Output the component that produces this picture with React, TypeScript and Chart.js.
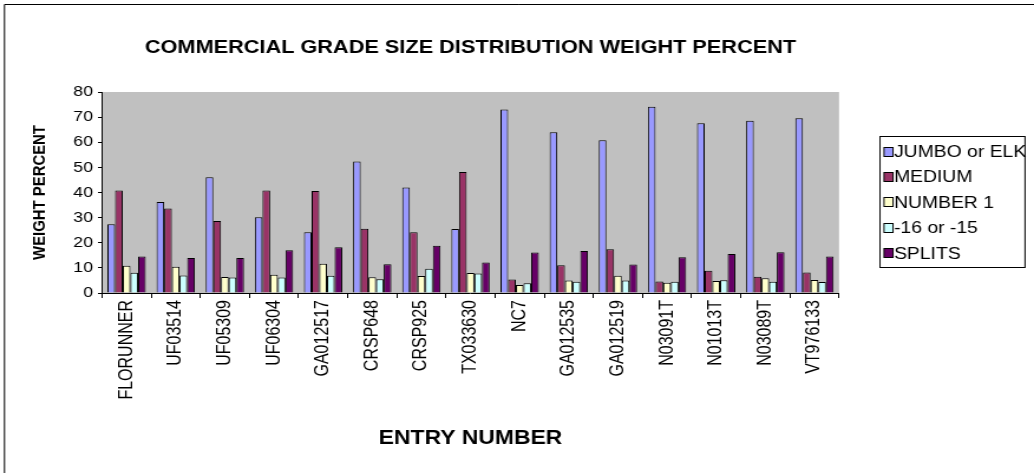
import React, { useEffect, useRef } from "react";
import { Chart, registerables } from "chart.js";

Chart.register(...registerables);

const categories = [
  "FLORUNNER", "UF03514", "UF05309", "UF06304", "GA012517", "CRSP648", "CRSP925",
  "TX033630", "NC7", "GA012535", "GA012519", "N03091T", "N01013T", "N03089T", "VT976133",
];
const jumbo = [27.4, 36.2, 46.1, 30.1, 24.2, 52.3, 42.0, 25.5, 73.0, 64.0, 60.8, 74.1, 67.6, 68.6, 69.6];
const medium = [40.8, 33.6, 28.7, 40.8, 40.6, 25.6, 24.2, 48.2, 5.4, 11.0, 17.4, 4.6, 8.9, 6.5, 8.2];
const number1 = [10.8, 10.4, 6.4, 7.3, 11.6, 6.3, 6.8, 8.0, 3.2, 5.0, 6.9, 4.1, 4.8, 5.9, 5.2];
const minus16 = [8.1, 7.0, 6.2, 6.2, 6.9, 5.5, 9.7, 7.8, 3.9, 4.5, 5.0, 4.5, 5.1, 4.5, 4.4];
const splits = [14.5, 13.9, 13.9, 17.0, 18.2, 11.4, 18.8, 12.1, 16.1, 16.7, 11.3, 14.2, 15.5, 16.2, 14.5];

const seriesNames = ["JUMBO or ELK", "MEDIUM", "NUMBER 1", "-16 or -15", "SPLITS"];
const yTicks = [0, 10, 20, 30, 40, 50, 60, 70, 80];

const chartTitle = "COMMERCIAL GRADE SIZE DISTRIBUTION WEIGHT PERCENT";
const xTitle = "ENTRY NUMBER";
const yTitle = "WEIGHT PERCENT";

const FONT = "'Liberation Sans', Arial, sans-serif";

// the reference is drawn horizontally stretched; draw on a narrower canvas and widen it with CSS
const OUT_W = 1034;
const OUT_H = 473;
const S = 1.18;
const W = Math.round(OUT_W / S);
const sx = (x: number) => x / (OUT_W / W);

const frame = {
  id: "frame",
  beforeDraw(chart: any) {
    const { ctx, chartArea } = chart;
    ctx.save();
    ctx.fillStyle = "#ffffff";
    ctx.fillRect(0, 0, chart.width, chart.height);
    ctx.fillStyle = "#C0C0C0";
    ctx.fillRect(chartArea.left, chartArea.top, chartArea.right - chartArea.left, chartArea.bottom - chartArea.top);
    ctx.strokeStyle = "#000000";
    ctx.lineWidth = 1;
    ctx.beginPath();
    ctx.moveTo(sx(4.5), chart.height);
    ctx.lineTo(sx(4.5), 4.5);
    ctx.lineTo(chart.width, 4.5);
    ctx.stroke();
    ctx.restore();
  },
  afterDraw(chart: any) {
    const { ctx, chartArea } = chart;
    ctx.save();
    ctx.fillStyle = "#000";
    ctx.font = `bold 18.4px ${FONT}`;
    ctx.textAlign = "center";
    ctx.textBaseline = "middle";
    ctx.fillText(chartTitle, (chartArea.left + chartArea.right) / 2, 48);

    // legend
    const bx = sx(880), by = 136.5, bw = sx(145), bh = 131;
    ctx.fillStyle = "#fff";
    ctx.fillRect(bx, by, bw, bh);
    ctx.strokeStyle = "#000";
    ctx.lineWidth = 1;
    ctx.strokeRect(bx, by, bw, bh);
    ctx.font = `16.4px ${FONT}`;
    ctx.textAlign = "left";
    ctx.textBaseline = "middle";
    chart.data.datasets.forEach((ds: any, i: number) => {
      const cy = 151.5 + i * 25.4;
      const top = Math.round(cy - 5) + 0.5;
      ctx.fillStyle = ds.backgroundColor;
      ctx.fillRect(sx(884), top, sx(9), 9);
      ctx.strokeStyle = "#000";
      ctx.strokeRect(sx(884), top, sx(9), 9);
      ctx.fillStyle = "#000";
      ctx.fillText(ds.label, sx(894), cy + 1);
    });
    ctx.restore();
  },
};

export default function App() {
  const ref = useRef<HTMLCanvasElement | null>(null);
  useEffect(() => {
    document.body.style.margin = "0";
    const colors = ["#9999FF", "#993366", "#FFFFCC", "#CCFFFF", "#660066"];
    const values = [jumbo, medium, number1, minus16, splits];
    const chart = new Chart(ref.current as HTMLCanvasElement, {
      type: "bar",
      data: {
        labels: categories,
        datasets: values.map((v, i) => ({
          label: seriesNames[i],
          data: v,
          backgroundColor: colors[i],
          borderColor: "#000000",
          borderWidth: 1,
          categoryPercentage: 0.78,
          barPercentage: 1.0,
        })),
      },
      options: {
        animation: false,
        responsive: false,
        devicePixelRatio: 1,
        layout: { padding: { left: 0, top: 92, right: W - sx(839), bottom: 0 } },
        plugins: { legend: { display: false }, title: { display: false }, tooltip: { enabled: false } },
        scales: {
          x: {
            afterFit(scale: any) { scale.height = 180; },
            grid: { display: true, drawOnChartArea: false, tickLength: 5, color: "#000", offset: true },
            border: { display: true, color: "#000", width: 1 },
            ticks: {
              color: "#000",
              font: { family: FONT, size: 16 },
              minRotation: 90,
              maxRotation: 90,
              autoSkip: false,
              padding: 2,
            },
            title: {
              display: true,
              text: xTitle,
              color: "#000",
              font: { family: FONT, size: 19.4, weight: "bold" },
              padding: { top: 0, bottom: 23 },
            },
          },
          y: {
            min: 0,
            max: 80,
            afterFit(scale: any) { scale.width = sx(102); },
            afterBuildTicks(scale: any) { scale.ticks = yTicks.map((v) => ({ value: v })); },
            grid: { display: true, drawOnChartArea: false, tickLength: sx(4), color: "#000" },
            border: { display: true, color: "#000", width: 1 },
            ticks: {
              color: "#000",
              font: { family: FONT, size: 15 },
              padding: sx(5),
            },
            title: {
              display: true,
              text: yTitle,
              color: "#000",
              font: { family: FONT, size: 14.9, weight: "bold" },
              padding: { top: sx(40) - 9, bottom: 0 },
            },
          },
        },
      },
      plugins: [frame],
    });
    return () => chart.destroy();
  }, []);
  return (
    <canvas
      ref={ref}
      width={W}
      height={OUT_H}
      style={{ display: "block", width: `${OUT_W}px`, height: `${OUT_H}px` }}
    />
  );
}
